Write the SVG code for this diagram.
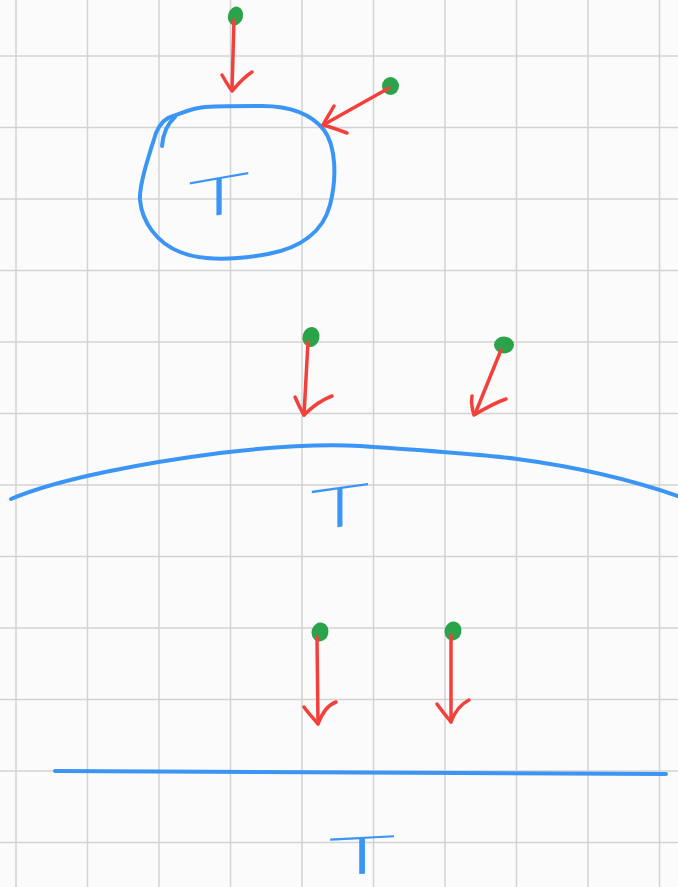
<svg xmlns="http://www.w3.org/2000/svg" width="678" height="887" viewBox="0 0 678 887">
<style>
.grid line{stroke:#d3d3d3;stroke-width:1.5}
.blue{fill:none;stroke:#3b95f5;stroke-width:4;stroke-linecap:round;stroke-linejoin:round}
.red{fill:none;stroke:#f4403b;stroke-width:3.5;stroke-linecap:round;stroke-linejoin:round}
.dot{fill:#2ba34b}
.t{font-family:Inter,"Liberation Sans",sans-serif;font-weight:200;fill:#3b95f5;text-anchor:middle}
</style>
<rect width="678" height="887" fill="#fbfbfb"/>
<g class="grid">
<line x1="16" y1="0" x2="16" y2="887"/><line x1="87.5" y1="0" x2="87.5" y2="887"/><line x1="159" y1="0" x2="159" y2="887"/><line x1="230.5" y1="0" x2="230.5" y2="887"/><line x1="302" y1="0" x2="302" y2="887"/><line x1="373.5" y1="0" x2="373.5" y2="887"/><line x1="445" y1="0" x2="445" y2="887"/><line x1="516.5" y1="0" x2="516.5" y2="887"/><line x1="588" y1="0" x2="588" y2="887"/><line x1="659.5" y1="0" x2="659.5" y2="887"/>
<line x1="0" y1="56" x2="678" y2="56"/><line x1="0" y1="127.5" x2="678" y2="127.5"/><line x1="0" y1="199" x2="678" y2="199"/><line x1="0" y1="270.5" x2="678" y2="270.5"/><line x1="0" y1="342" x2="678" y2="342"/><line x1="0" y1="413.5" x2="678" y2="413.5"/><line x1="0" y1="485" x2="678" y2="485"/><line x1="0" y1="556.5" x2="678" y2="556.5"/><line x1="0" y1="628" x2="678" y2="628"/><line x1="0" y1="699.5" x2="678" y2="699.5"/><line x1="0" y1="771" x2="678" y2="771"/><line x1="0" y1="842.5" x2="678" y2="842.5"/>
</g>
<g id="node-circle">
<path class="blue" d="M205,107 C225,106 245,106 262,106 C292,106 312,115 324,130 C336,146 337,178 330,205 C323,232 300,248 268,254 C240,259 205,262 180,252 C157,243 142,222 140,200 C139,185 149,155 156,133 C160,123 165,118 173,116 C182,113 192,108 205,107"/>
<path class="blue" d="M162,146 C163,134 167,124 175,117"/>
<text class="t" font-size="52" transform="translate(219,215) skewY(-10) scale(2.2,1)">T</text>
</g>
<g id="node-curve">
<path class="blue" d="M11,499 C60,478 150,462 220,453 C270,447 320,444 360,446 C420,450 480,454 517,459 C570,466 620,476 678,496"/>
<text class="t" font-size="55" transform="translate(340,527) skewY(-8) scale(2,1)">T</text>
</g>
<g id="node-line">
<path class="blue" d="M55,771 L666,774"/>
<text class="t" font-size="51" transform="translate(362,874) skewY(-3) scale(2.45,1)">T</text>
</g>
<g id="sources">
<ellipse id="p1" class="dot" cx="235.5" cy="16" rx="7.5" ry="9.5" transform="rotate(15 235.5 16)"/>
<ellipse id="p2" class="dot" cx="390.5" cy="86" rx="8.5" ry="9"/>
<ellipse id="p3" class="dot" cx="311" cy="337" rx="8.5" ry="10" transform="rotate(15 311 337)"/>
<ellipse id="p4" class="dot" cx="504" cy="345" rx="10" ry="8.5"/>
<ellipse id="p5" class="dot" cx="320" cy="632" rx="8.5" ry="9.5" transform="rotate(15 320 632)"/>
<ellipse id="p6" class="dot" cx="453" cy="631" rx="8.5" ry="9.5" transform="rotate(15 453 631)"/>
</g>
<g id="connectors" class="red">
<path d="M234,20 L232,90"/><path d="M222,75 C226,82 229,87 232,91 C238,84 244,77 252,72"/>
<path d="M389,88 L323,125"/><path d="M334,106 C330,113 326,119 323,125 C331,127 339,130 347,133"/>
<path d="M308,342 L304,415"/><path d="M295,397 C298,404 301,410 304,415 C312,407 321,400 332,396"/>
<path d="M501,350 L475,414"/><path d="M472,396 C471,403 472,409 474,415 C484,409 494,403 506,399"/>
<path d="M317,637 L318,724"/><path d="M304,707 C309,714 314,719 318,724 C322,713 328,705 336,702"/>
<path d="M451,635 L451,722"/><path d="M437,704 C442,711 447,717 451,722 C455,711 461,704 469,700"/>
</g>
</svg>
